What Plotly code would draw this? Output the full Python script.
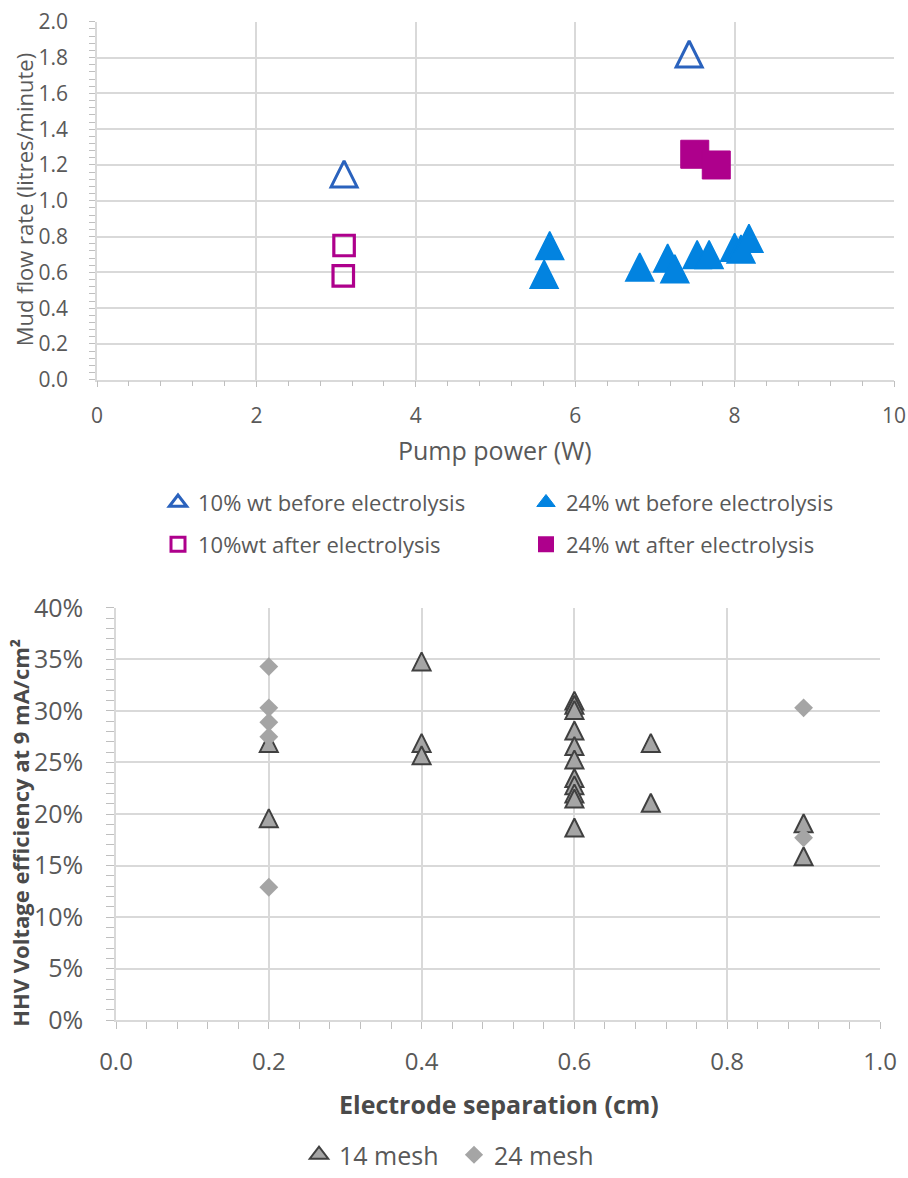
import plotly.graph_objects as go

W, H = 908, 1178

# ---- Top panel: mud flow rate vs pump power ----
before10_x = [3.10, 7.43]
before10_y = [1.15, 1.82]
before24_x = [5.68, 5.61, 6.81, 7.16, 7.25, 7.53, 7.68, 8.00, 8.08, 8.18]
before24_y = [0.75, 0.59, 0.63, 0.68, 0.62, 0.70, 0.70, 0.74, 0.73, 0.79]
after10_x = [3.10, 3.09]
after10_y = [0.75, 0.58]
after24_x = [7.50, 7.77]
after24_y = [1.26, 1.20]

# ---- Bottom panel: voltage efficiency vs electrode separation ----
mesh14_x = [0.2, 0.2, 0.4, 0.4, 0.4,
            0.6, 0.6, 0.6, 0.6, 0.6, 0.6, 0.6, 0.6, 0.6, 0.6, 0.6,
            0.7, 0.7, 0.9, 0.9]
mesh14_y = [26.9, 19.6, 34.8, 26.9, 25.7,
            31.0, 30.6, 30.1, 28.1, 26.6, 25.3, 23.5, 22.8, 22.0, 21.5, 18.7,
            26.9, 21.1, 19.1, 15.9]
mesh24_x = [0.2, 0.2, 0.2, 0.2, 0.2, 0.9, 0.9]
mesh24_y = [34.3, 30.3, 28.9, 27.5, 12.9, 30.3, 17.7]

FONT = "Open Sans"
TXT = "#595959"
GRID = "#D9D9D9"
TICK = "#BFBFBF"

BLUE_DARK = "#2A62BD"
BLUE = "#0283E0"
MAGENTA = "#AE008C"
GREY_FILL = "#A5A5A5"
GREY_EDGE = "#404040"


def px_x(p):
    return p / W


def px_y(p):
    return 1 - p / H


def tri(size, open_=False):
    # equal-sided triangle, pointing up and centred on the data point
    return dict(symbol="arrow-down-open" if open_ else "arrow-down",
                angle=180, size=size, standoff=size / 2)


fig = go.Figure()

# plotted points (legend entries are supplied separately below)
fig.add_trace(go.Scatter(
    x=before10_x, y=before10_y, mode="markers", name="10% wt before electrolysis",
    marker=dict(**tri(26, True), color=BLUE_DARK, line=dict(color=BLUE_DARK, width=3)),
    xaxis="x", yaxis="y", showlegend=False))
fig.add_trace(go.Scatter(
    x=before24_x, y=before24_y, mode="markers", name="24% wt before electrolysis",
    marker=dict(**tri(28), color=BLUE, line=dict(color=BLUE, width=1.5)),
    xaxis="x", yaxis="y", showlegend=False))
fig.add_trace(go.Scatter(
    x=after10_x, y=after10_y, mode="markers", name="10%wt after electrolysis",
    marker=dict(symbol="square-open", size=20.5, color=MAGENTA,
                line=dict(color=MAGENTA, width=3.2)),
    xaxis="x", yaxis="y", showlegend=False))
fig.add_trace(go.Scatter(
    x=after24_x, y=after24_y, mode="markers", name="24% wt after electrolysis",
    marker=dict(symbol="square", size=28, color=MAGENTA, line=dict(color=MAGENTA, width=1)),
    xaxis="x", yaxis="y", showlegend=False))

fig.add_trace(go.Scatter(
    x=mesh14_x, y=mesh14_y, mode="markers", name="14 mesh",
    marker=dict(**tri(18), color=GREY_FILL, line=dict(color=GREY_EDGE, width=2)),
    xaxis="x2", yaxis="y2", showlegend=False))
fig.add_trace(go.Scatter(
    x=mesh24_x, y=mesh24_y, mode="markers", name="24 mesh",
    marker=dict(symbol="diamond", size=14.5, color=GREY_FILL),
    xaxis="x2", yaxis="y2", showlegend=False))

# legend keys
legend_keys = [
    ("10% wt before electrolysis", "legend",
     dict(symbol="triangle-up-open", size=15, color=BLUE_DARK, line=dict(color=BLUE_DARK, width=3)), "x", "y"),
    ("24% wt before electrolysis", "legend2",
     dict(symbol="triangle-up", size=16, color=BLUE, line=dict(color=BLUE, width=1)), "x", "y"),
    ("10%wt after electrolysis", "legend3",
     dict(symbol="square-open", size=14, color=MAGENTA, line=dict(color=MAGENTA, width=3)), "x", "y"),
    ("24% wt after electrolysis", "legend4",
     dict(symbol="square", size=16, color=MAGENTA), "x", "y"),
    ("14 mesh", "legend5",
     dict(symbol="triangle-up", size=16, color=GREY_FILL, line=dict(color=GREY_EDGE, width=2)), "x2", "y2"),
    ("24 mesh", "legend6",
     dict(symbol="diamond", size=14, color=GREY_FILL), "x2", "y2"),
]
for name, leg, mk, xa, ya in legend_keys:
    fig.add_trace(go.Scatter(x=[None], y=[None], mode="markers", name=name, marker=mk,
                             xaxis=xa, yaxis=ya, legend=leg, showlegend=True))

axis_common = dict(
    showgrid=True, gridcolor=GRID, gridwidth=1.5, zeroline=False,
    showline=True, linecolor=GRID, linewidth=1.5,
    ticks="outside", tickcolor=TICK, tickwidth=1,
    automargin=False, fixedrange=True,
)

fig.update_layout(
    width=W, height=H,
    margin=dict(l=0, r=0, t=0, b=0),
    paper_bgcolor="white", plot_bgcolor="white",
    font=dict(family=FONT, color=TXT),
    xaxis=dict(**axis_common, domain=[px_x(97), px_x(894)], anchor="y",
               range=[0, 10], tick0=0, dtick=2, ticklen=6,
               minor=dict(dtick=0.4, ticks="outside", ticklen=5, tickcolor=TICK, showgrid=False),
               tickfont=dict(size=21, color=TXT), ticklabelstandoff=10),
    yaxis=dict(**axis_common, domain=[px_y(383), px_y(22)], anchor="x",
               range=[0, 2], tick0=0, dtick=0.2, tickformat=".1f", ticklen=6,
               minor=dict(dtick=0.04, ticks="outside", ticklen=6, tickcolor=TICK, showgrid=False),
               tickfont=dict(size=21, color=TXT), ticklabelstandoff=17),
    xaxis2=dict(**axis_common, domain=[px_x(116), px_x(880)], anchor="y2",
                range=[0, 1], tick0=0, dtick=0.2, tickformat=".1f", ticklen=7,
                minor=dict(dtick=0.04, ticks="outside", ticklen=7, tickcolor=TICK, showgrid=False),
                tickfont=dict(size=24, color=TXT), ticklabelstandoff=12),
    yaxis2=dict(**axis_common, domain=[px_y(1029), px_y(613)], anchor="x2",
                range=[0, 40], tick0=0, dtick=5, ticksuffix="%", ticklen=8,
                minor=dict(dtick=1, ticks="outside", ticklen=8, tickcolor=TICK, showgrid=False),
                tickfont=dict(size=25, color=TXT), ticklabelstandoff=18),
    showlegend=True,
)

# one legend box per entry so each can sit in its own slot
leg_font_top = dict(family=FONT, size=22, color=TXT)
leg_font_bot = dict(family=FONT, size=25, color=TXT)
slots = {
    "legend": (158, 507, leg_font_top),
    "legend2": (526, 507, leg_font_top),
    "legend3": (158, 549, leg_font_top),
    "legend4": (526, 549, leg_font_top),
    "legend5": (299, 1165, leg_font_bot),
    "legend6": (454, 1165, leg_font_bot),
}
for key, (lx, ly, lf) in slots.items():
    fig.update_layout(**{key: dict(
        x=px_x(lx), y=px_y(ly), xanchor="left", yanchor="middle",
        orientation="h", font=lf, bgcolor="rgba(0,0,0,0)", borderwidth=0,
    )})

# axis titles
fig.add_annotation(text="Pump power (W)", x=px_x(495), y=px_y(454), xref="paper", yref="paper",
                   showarrow=False, font=dict(family=FONT, size=25, color=TXT),
                   xanchor="center", yanchor="middle")
fig.add_annotation(text="Mud flow rate (litres/minute)", x=px_x(24), y=px_y(202),
                   xref="paper", yref="paper", textangle=-90, showarrow=False,
                   font=dict(family=FONT, size=22, color=TXT), xanchor="center", yanchor="middle")
fig.add_annotation(text="<b>Electrode separation (cm)</b>", x=px_x(499), y=px_y(1113),
                   xref="paper", yref="paper", showarrow=False,
                   font=dict(family=FONT, size=25, color="#4A4A4A"), xanchor="center", yanchor="middle")
fig.add_annotation(text="<b>HHV Voltage efficiency at 9 mA/cm²</b>", x=px_x(20), y=px_y(840),
                   xref="paper", yref="paper", textangle=-90, showarrow=False,
                   font=dict(family=FONT, size=22, color="#4A4A4A"), xanchor="center", yanchor="middle")

fig.write_html("out.html")
